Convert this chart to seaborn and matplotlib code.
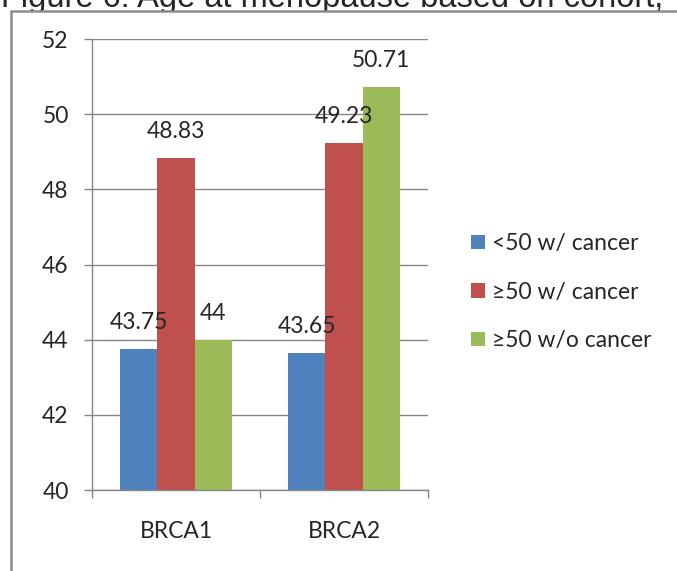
import matplotlib
matplotlib.use("Agg")
import matplotlib.pyplot as plt
from matplotlib.patches import Rectangle
import seaborn as sns
import pandas as pd

genes = ["BRCA1", "BRCA2"]
groups = ["<50 w/ cancer", "≥50 w/ cancer", "≥50 w/o cancer"]
lt50_cancer = [43.75, 43.65]
ge50_cancer = [48.83, 49.23]
ge50_no_cancer = [44, 50.71]
colors = ["#4F81BD", "#C0504D", "#9BBB59"]
yticks = [40, 42, 44, 46, 48, 50, 52]
title = "Figure 6: Age at menopause based on cohort,"

df = pd.DataFrame({
    "gene": genes * 3,
    "group": [g for g in groups for _ in genes],
    "age": lt50_cancer + ge50_cancer + ge50_no_cancer,
})

sns.set_style("white")
plt.rcParams["font.family"] = ["Lato", "DejaVu Sans"]

W, H = 677, 571
GRAY = "#868686"
FS = 16.5

fig = plt.figure(figsize=(W / 100, H / 100), dpi=100)


def fx(px):
    return px / W


def fy(py):
    return 1 - py / H


# caption line running off the top edge of the page
fig.text(fx(1), fy(7), title, family=["Liberation Sans"], fontsize=23.5,
         va="baseline", ha="left", zorder=-3)
# white chart panel with its grey frame, laid over the caption
fig.patches.append(Rectangle((fx(10.5), -0.1), 1.2, fy(10.5) + 0.1,
                             transform=fig.transFigure, facecolor="white",
                             edgecolor="#8c8c8c", linewidth=1.8, zorder=-2))

ax = fig.add_axes([fx(92), fy(490), fx(428) - fx(92), fy(39) - fy(490)])
ax.patch.set_alpha(0)

sns.barplot(data=df, x="gene", y="age", hue="group", order=genes,
            hue_order=groups, palette=colors, saturation=1, width=0.667,
            gap=0, linewidth=0, errorbar=None, ax=ax)

ax.set_ylim(40, 52)
ax.set_xlim(-0.5, 1.5)
ax.set_yticks(yticks)
ax.set_xlabel("")
ax.set_ylabel("")
ax.set_axisbelow(True)
ax.yaxis.grid(True, color=GRAY, linewidth=1.0)
ax.xaxis.grid(False)

for side in ("top", "right"):
    ax.spines[side].set_visible(False)
for side in ("left", "bottom"):
    ax.spines[side].set_color(GRAY)
    ax.spines[side].set_linewidth(1.0)

ax.tick_params(axis="y", which="major", length=5.8, width=1.0, color=GRAY,
               direction="out", pad=11, labelsize=FS, left=True)
ax.set_xticks([0, 1])
ax.set_xticklabels(genes)
ax.set_xticks([-0.5, 0.5, 1.5], minor=True)
ax.tick_params(axis="x", which="major", length=0, pad=22, labelsize=FS)
ax.tick_params(axis="x", which="minor", length=5.8, width=1.0, color=GRAY,
               direction="out", bottom=True)

# value labels above each bar
for cont, vals in zip(ax.containers, [lt50_cancer, ge50_cancer, ge50_no_cancer]):
    bars = sorted(cont, key=lambda b: b.get_x())
    for bar, v in zip(bars, vals):
        ax.annotate(f"{v:g}", (bar.get_x() + bar.get_width() / 2, v),
                    xytext=(0, 14.4), textcoords="offset points",
                    ha="center", va="baseline", fontsize=FS, zorder=5,
                    annotation_clip=False)

leg = ax.get_legend()
handles = leg.legend_handles
labels = [t.get_text() for t in leg.get_texts()]
leg.remove()
fig.legend(handles, labels, loc="center left",
           bbox_to_anchor=(fx(471), fy(292)), bbox_transform=fig.transFigure,
           frameon=False, fontsize=FS, handlelength=0.62, handleheight=0.62,
           handletextpad=0.3, labelspacing=1.2, borderpad=0, borderaxespad=0)

fig.savefig("out.png", dpi=100)
